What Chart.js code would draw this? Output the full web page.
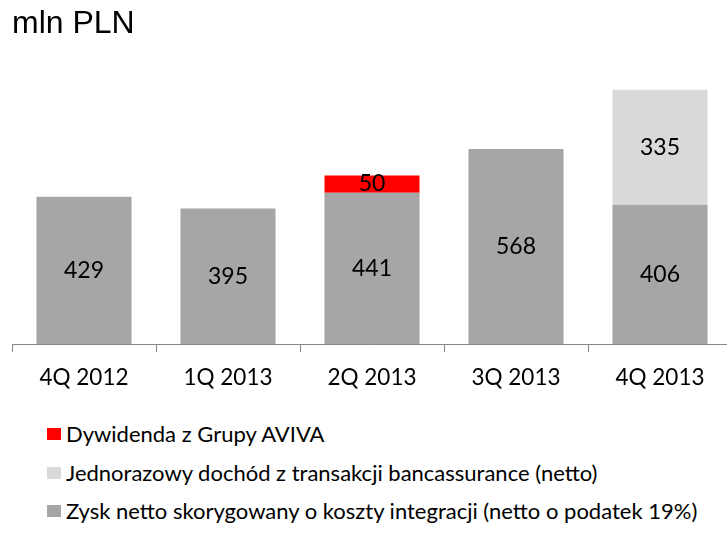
<!DOCTYPE html>
<html>
<head>
<meta charset="utf-8">
<script src="https://cdn.jsdelivr.net/npm/chart.js@4"></script>
<style>
  body { margin: 0; background: #fff; overflow: hidden; }
  #wrap { position: relative; width: 727px; height: 533px; overflow: hidden; }
  #legend { position: absolute; left: 47px; top: 421px; font-family: Lato, sans-serif; font-size: 22px; color: #000; }
  #legend div { height: 38.5px; line-height: 26px; white-space: nowrap; }
  #legend span.box { display: inline-block; width: 14px; height: 12px; margin-right: 5px; vertical-align: top; margin-top: 7px; }
</style>
</head>
<body>
<div id="wrap">
  <canvas id="chart1" width="732" height="410"></canvas>
  <div id="legend"></div>
</div>
<script>
const labels = ['4Q 2012', '1Q 2013', '2Q 2013', '3Q 2013', '4Q 2013'];
const zysk = [429, 395, 441, 568, 406];
const bancassurance = [null, null, null, null, 335];
const dywidenda = [null, null, 50, null, null];

const darkGrey = '#a6a6a6';
const lightGrey = '#d9d9d9';
const red = '#ff0000';

// numbers in the middle of each bar segment
const valueLabels = {
  id: 'valueLabels',
  afterDatasetsDraw(chart) {
    const ctx = chart.ctx;
    ctx.save();
    ctx.font = '23px Lato, sans-serif';
    ctx.fillStyle = '#000';
    ctx.textAlign = 'center';
    ctx.textBaseline = 'middle';
    chart.data.datasets.forEach((ds, i) => {
      chart.getDatasetMeta(i).data.forEach((bar, j) => {
        const v = ds.data[j];
        if (v == null) return;
        ctx.fillText(v, bar.x, (bar.y + bar.base) / 2);
      });
    });
    ctx.restore();
  }
};

const ctx = document.getElementById('chart1');
const chart = new Chart(ctx, {
  type: 'bar',
  data: {
    labels: labels,
    datasets: [
      { label: 'Zysk netto skorygowany o koszty integracji (netto o podatek 19%)', data: zysk, backgroundColor: darkGrey },
      { label: 'Jednorazowy dochód z transakcji bancassurance (netto)', data: bancassurance, backgroundColor: lightGrey },
      { label: 'Dywidenda z Grupy AVIVA', data: dywidenda, backgroundColor: red }
    ]
  },
  options: {
    responsive: false,
    animation: false,
    devicePixelRatio: 1,
    layout: { padding: { left: 12, right: 0, top: 0, bottom: 7 } },
    datasets: { bar: { categoryPercentage: 1, barPercentage: 0.66 } },
    scales: {
      x: {
        stacked: true,
        border: { color: '#868686', width: 1 },
        grid: { drawOnChartArea: false, tickLength: 8, color: '#868686' },
        ticks: { color: '#000', padding: 12, font: { family: 'Lato, sans-serif', size: 22.5 } }
      },
      y: {
        stacked: true,
        display: false,
        min: 0,
        max: 800
      }
    },
    plugins: {
      legend: { display: false },
      tooltip: { enabled: false },
      title: {
        display: true,
        text: 'mln PLN',
        align: 'start',
        color: '#000',
        font: { family: '"Liberation Sans", Arial, sans-serif', size: 32, weight: 'normal' },
        padding: { top: 5, bottom: 26 }
      }
    }
  },
  plugins: [valueLabels]
});

// legend below the chart, top segment first
const legend = document.getElementById('legend');
chart.data.datasets.slice().reverse().forEach(ds => {
  const row = document.createElement('div');
  const box = document.createElement('span');
  box.className = 'box';
  box.style.background = ds.backgroundColor;
  row.appendChild(box);
  row.appendChild(document.createTextNode(ds.label));
  legend.appendChild(row);
});
</script>
</body>
</html>
